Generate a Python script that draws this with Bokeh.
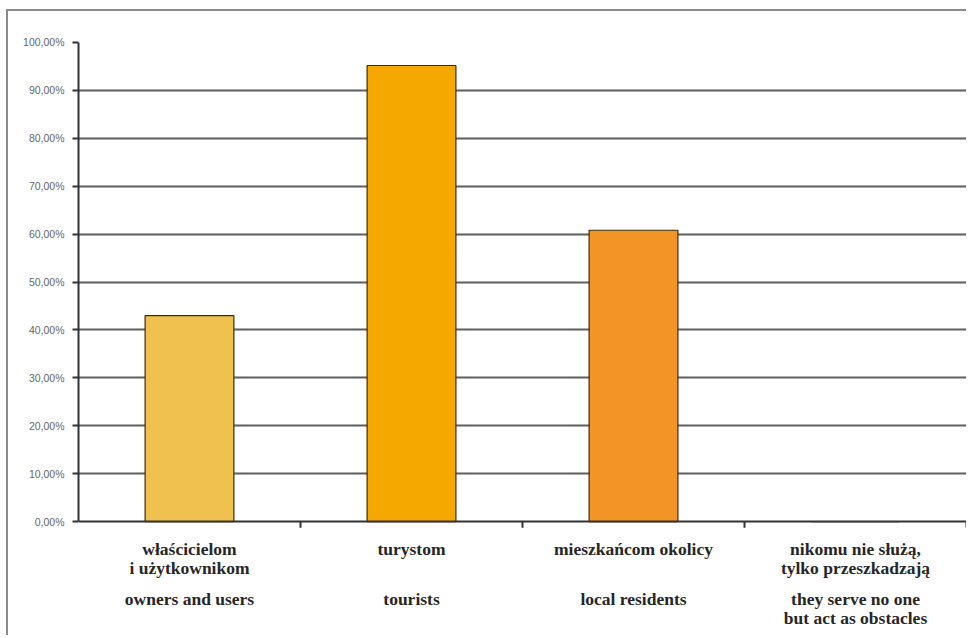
from bokeh.plotting import figure
from bokeh.models import Range1d, FixedTicker, Span, ColumnDataSource
from bokeh.core.properties import value
from bokeh.embed import file_html
from bokeh.resources import INLINE

# Survey answers: who do the objects serve (share of respondents, %)
labels_pl = [
    "właścicielom\ni użytkownikom",
    "turystom",
    "mieszkańcom okolicy",
    "nikomu nie służą,\ntylko przeszkadzają",
]
labels_en = [
    "owners and users",
    "tourists",
    "local residents",
    "they serve no one\nbut act as obstacles",
]
shares = [43.0, 95.2, 60.8, 0.0]
bar_colors = ["#F1C14F", "#F5A800", "#F29426", "#F29426"]
y_ticks = [0, 10, 20, 30, 40, 50, 60, 70, 80, 90, 100]
y_tick_labels = ["0,00%", "10,00%", "20,00%", "30,00%", "40,00%", "50,00%",
                 "60,00%", "70,00%", "80,00%", "90,00%", "100,00%"]

n = len(labels_pl)
xs = [i + 0.5 for i in range(n)]

p = figure(
    width=960, height=626,
    x_range=Range1d(0, n), y_range=Range1d(-24.0, 106.05),
    x_axis_type=None,
    output_backend="svg", toolbar_location=None,
    min_border_left=70, min_border_right=2, min_border_top=2, min_border_bottom=1,
)
p.styles = {
    "margin-left": "6px", "margin-top": "9px",
    "border-left": "2px solid #8a8a8a", "border-top": "2px solid #8a8a8a",
}
p.outline_line_color = None
p.background_fill_color = "white"
p.border_fill_color = "white"

# horizontal grid (no line at the 100% level)
p.xgrid.visible = False
p.ygrid.ticker = FixedTicker(ticks=y_ticks[1:-1])
p.ygrid.grid_line_color = "#5f5f5f"
p.ygrid.grid_line_width = 2

# value axis
ax = p.yaxis[0]
ax.ticker = FixedTicker(ticks=y_ticks)
ax.bounds = (0, 100)
ax.major_label_overrides = {t: s for t, s in zip(y_ticks, y_tick_labels)}
ax.axis_line_color = "#333333"
ax.axis_line_width = 2
ax.major_tick_line_color = "#333333"
ax.major_tick_line_width = 2
ax.major_tick_out = 6
ax.major_tick_in = 0
ax.minor_tick_line_color = None
ax.major_label_standoff = 8
ax.major_label_text_font = "Liberation Sans"
ax.major_label_text_font_size = "10.5px"
ax.major_label_text_color = "#666666"

# category axis line at zero and ticks between categories
p.add_layout(Span(location=0, dimension="width", line_color="#333333", line_width=2))
bounds_x = list(range(1, n + 1))
p.segment(x0=bounds_x, y0=[0] * n, x1=bounds_x, y1=[-1.3] * n,
          line_color="#333333", line_width=2)

# bars
src = ColumnDataSource(dict(x=xs, top=shares, color=bar_colors))
p.vbar(x="x", top="top", bottom=0, width=0.4, source=src,
       fill_color="color", line_color="#3a2c10", line_width=1.2)

# category labels (Polish above, English below)
tx, ty, tt, toff = [], [], [], []
for i in range(n):
    for j, line in enumerate(labels_pl[i].split("\n")):
        tx.append(xs[i]); ty.append(0); tt.append(line); toff.append(27 + 19 * j)
    for j, line in enumerate(labels_en[i].split("\n")):
        tx.append(xs[i]); ty.append(0); tt.append(line); toff.append(77 + 19 * j)
p.text(x=tx, y=ty, text=tt, y_offset=toff,
       text_font=value("Liberation Serif"),
       text_font_style="bold",
       text_font_size="17.5px", text_color="#262626",
       text_align="center", text_baseline="middle")

open("out.html", "w").write(file_html(p, INLINE))
